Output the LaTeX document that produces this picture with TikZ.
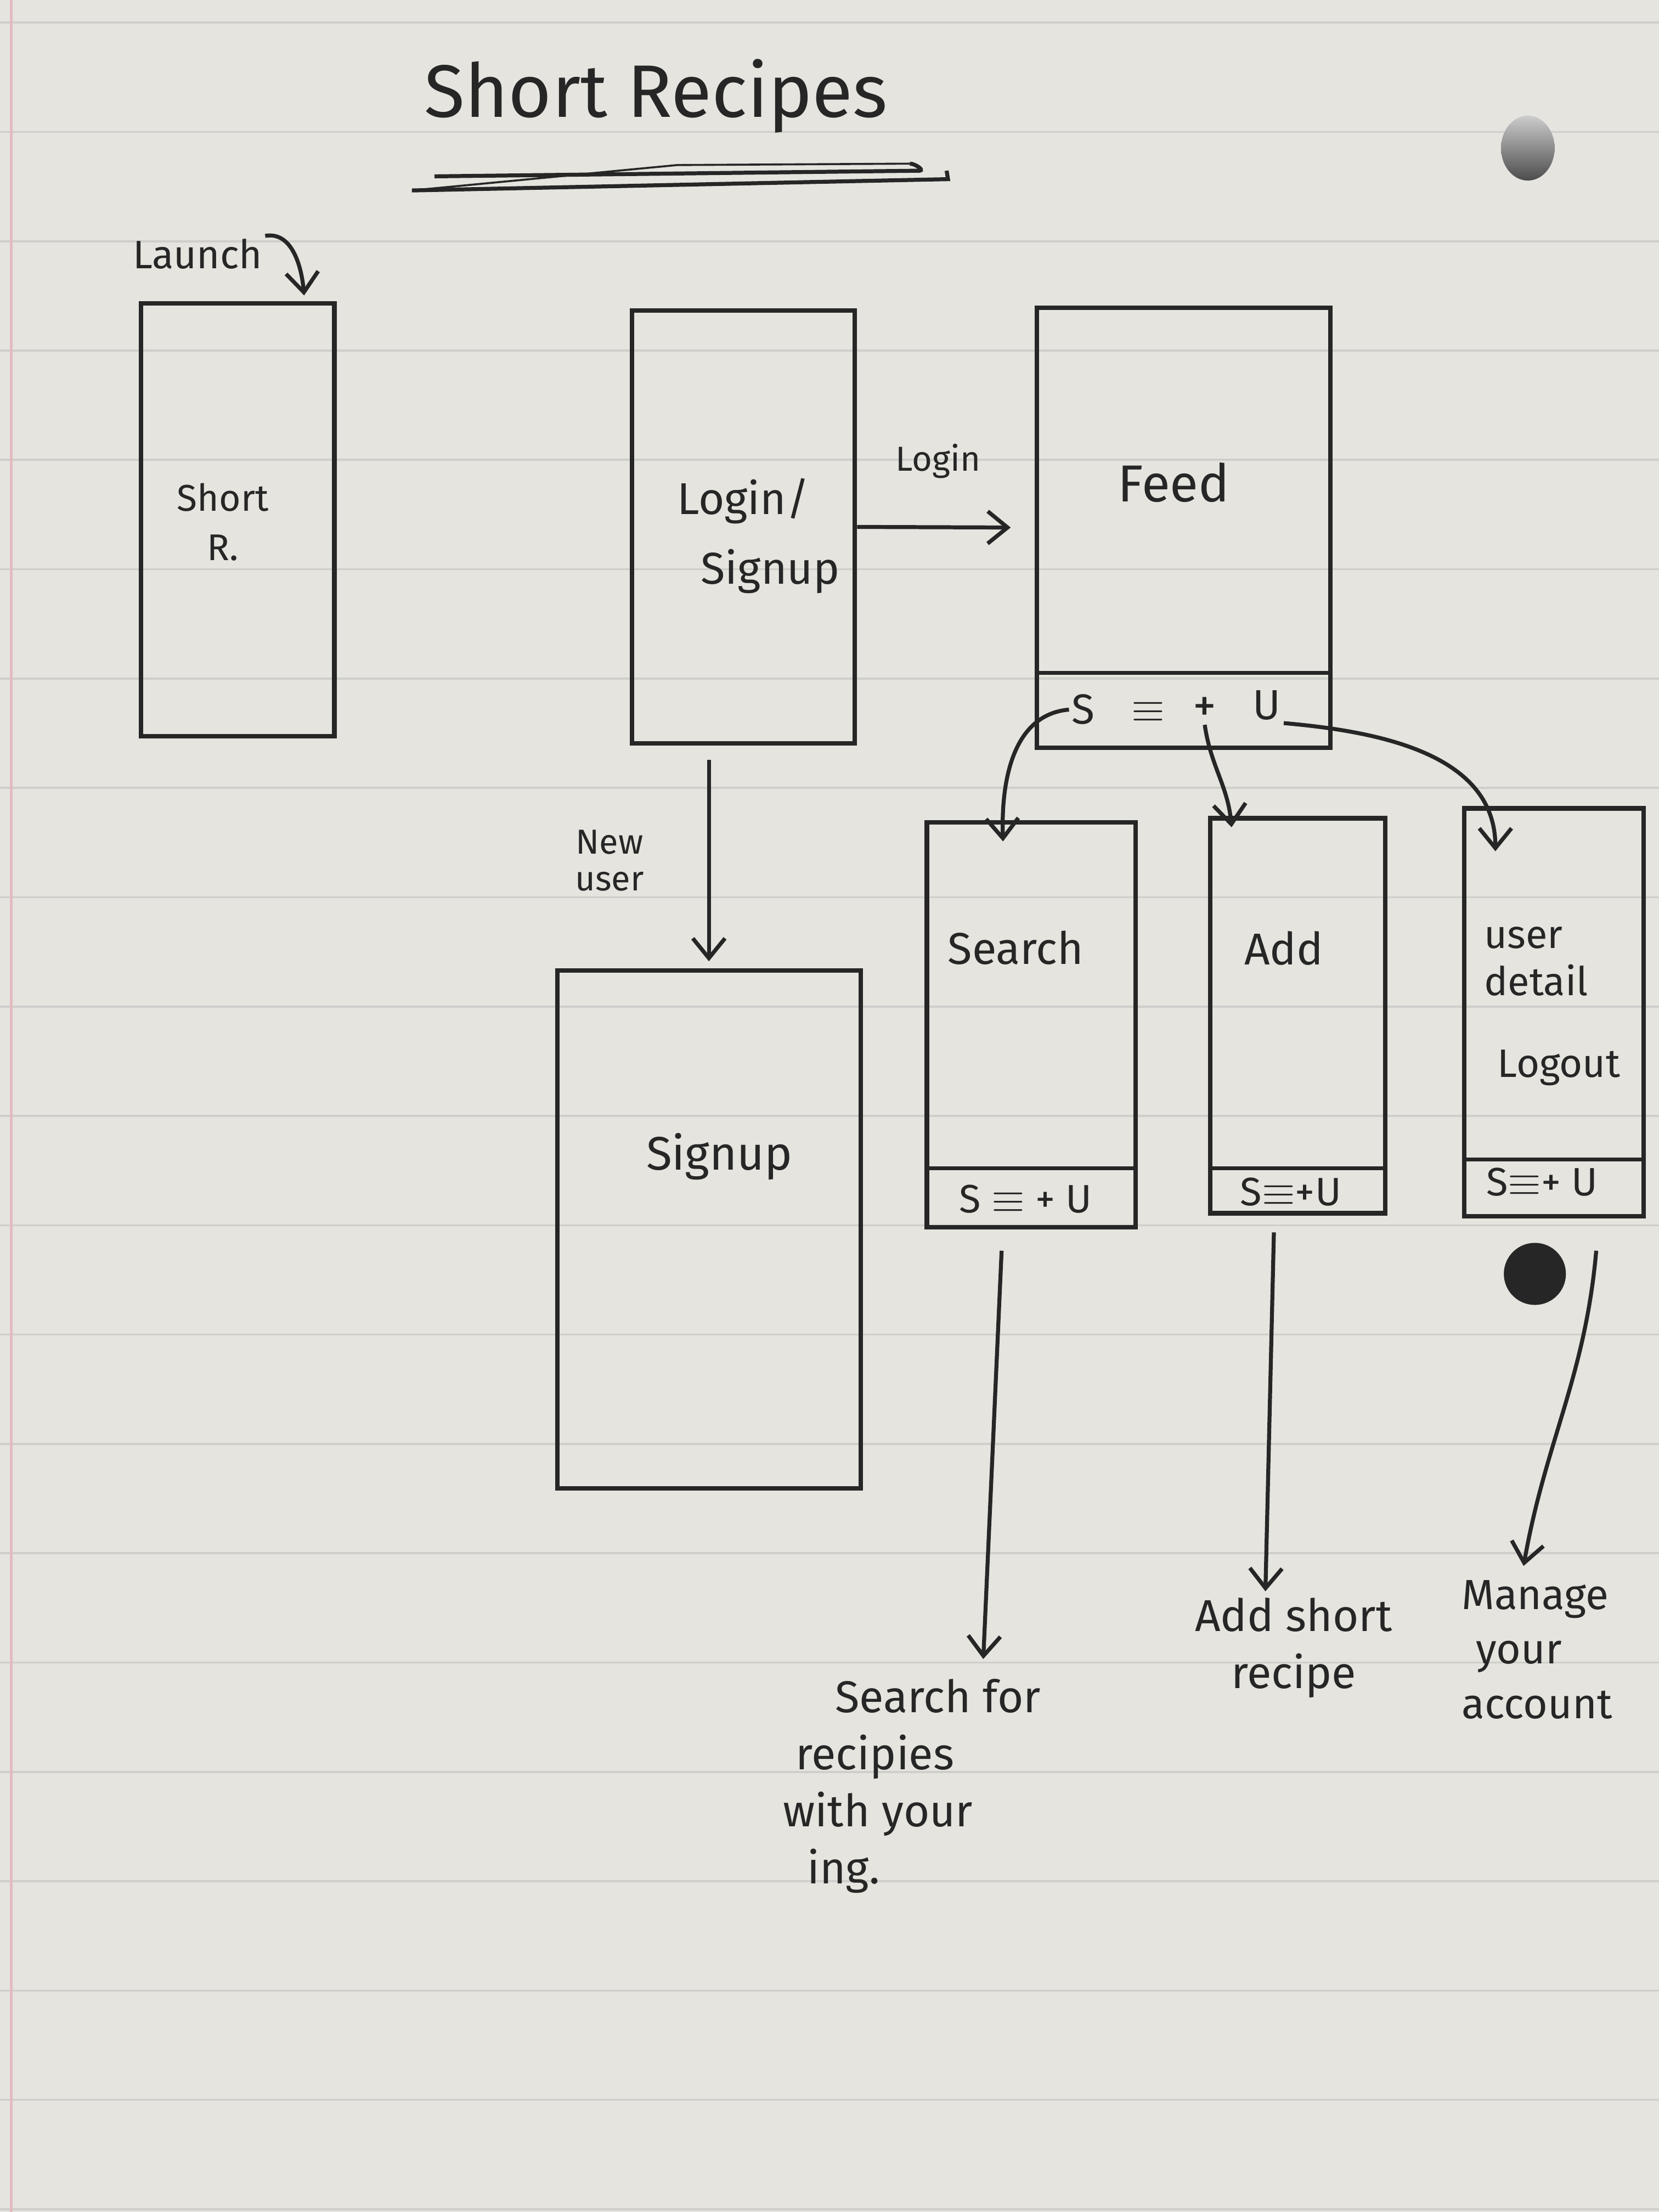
\documentclass[tikz,border=0pt]{standalone}
\usepackage{fontspec}
\setmainfont{Fira Sans}
\usetikzlibrary{arrows.meta,calc}
\definecolor{paper}{RGB}{229,228,222}
\definecolor{ruling}{RGB}{206,206,203}
\definecolor{ink}{RGB}{38,38,38}
\definecolor{marginpink}{RGB}{228,186,190}
\begin{document}
\begin{tikzpicture}[x=0.02cm,y=-0.02cm,
  screen/.style 2 args={draw=ink, line width=1.8pt, minimum width=#1*0.02cm, minimum height=#2*0.02cm, inner sep=0pt},
  hand/.style={text=ink, inner sep=1pt},
  arr/.style={draw=ink, line width=1.6pt, -{Straight Barb[length=8pt,width=13pt]}},
  sepline/.style={draw=ink, line width=1.6pt},
  sz/.style={font=\fontsize{#1}{#1}\selectfont}
]
% paper
\fill[paper] (0,0) rectangle (1176,1568);
\useasboundingbox (0,0) rectangle (1176,1568);
\foreach \k in {0,...,20} \draw[ruling, line width=0.8pt] (0,16+77.5*\k) -- (1176,16+77.5*\k);
\draw[marginpink, line width=1pt] (8,0) -- (8,1568);
\shade[top color=gray!40, bottom color=black!70] (1083,105) ellipse (0.38cm and 0.46cm);
\fill[black!85] (1088,903) circle (0.44cm);

% title
\node[hand, sz=30] (title) at (465,68) {Short Recipes};
\draw[ink, line width=1.6pt] (308,125) -- (652,121) to[out=10,in=0] (645,116);
\draw[ink, line width=0.8pt] (645,116) -- (480,117) -- (292,135);
\draw[ink, line width=1.6pt] (292,135) -- (672,127) -- (671,121);

% screens
\node[screen={137}{307}] (launchbox) at (168.5,368.5) {};
\node[screen={158}{307}] (loginbox) at (527,373.5) {};
\node[screen={208}{312}] (feed) at (839,374) {};
\node[screen={215}{367}] (signupbox) at (502.5,871.5) {};
\node[screen={148}{287}] (search) at (731,726.5) {};
\node[screen={124}{280}] (add) at (920,720) {};
\node[screen={127}{289}] (user) at (1101.5,717.5) {};

% tab-bar separators
\draw[sepline] (feed.west |- 0,477) -- (feed.east |- 0,477);
\draw[sepline] (search.west |- 0,828) -- (search.east |- 0,828);
\draw[sepline] (add.west |- 0,828) -- (add.east |- 0,828);
\draw[sepline] (user.west |- 0,822) -- (user.east |- 0,822);

% labels
\node[hand, sz=16] (launchlbl) at (140,180) {Launch};
\node[hand, align=center, font=\fontsize{15}{20}\selectfont] (shortr) at (158,370) {Short\\R.};
\node[hand, sz=18] (loginA) at (527,355) {Login/};
\node[hand, sz=18] (loginB) at (546,405) {Signup};
\node[hand, sz=14] (loginlbl) at (665,327) {Login};
\node[hand, sz=21] (feedlbl) at (832,342) {Feed};
\node[hand, align=center, font=\fontsize{14}{15}\selectfont] (newuser) at (432,610) {New\\user};
\node[hand, sz=19] (signuplbl) at (510,820) {Signup};
\node[hand, sz=18] (searchlbl) at (720,672) {Search};
\node[hand, sz=18] (addlbl) at (910,672) {Add};
\node[hand, align=left, font=\fontsize{16}{19}\selectfont, anchor=north west] (userlbl) at (1050,655) {user\\detail};
\node[hand, sz=16] (logoutlbl) at (1105,757) {Logout};

% tab bars
\node[hand, sz=17] (feedS) at (768,503) {S};
\node[hand, sz=19] (feedE) at (814,505) {$\equiv$};
\node[hand, sz=19] (feedP) at (854,503) {+};
\node[hand, sz=17] (feedU) at (898,500) {U};
\node[hand, sz=16] (searchbar) at (727,850) {S $\equiv$ + U};
\node[hand, sz=16] (addbar) at (915,845) {S$\equiv$+U};
\node[hand, sz=16] (userbar) at (1093,838) {S$\equiv$+ U};

% bottom notes
\node[hand, align=left, font=\fontsize{18}{23}\selectfont, anchor=north west] (searchnote) at (553,1188) {\hspace*{0.74cm}Search for\\\hspace*{0.18cm}recipies\\with your\\\hspace*{0.34cm}ing.};
\node[hand, align=center, font=\fontsize{18}{23}\selectfont] (addnote) at (917,1168) {Add short\\recipe};
\node[hand, align=left, font=\fontsize{17}{22}\selectfont, anchor=north west] (usernote) at (1034,1118) {Manage\\\hspace*{0.2cm}your\\account};

% end points
\coordinate (searchend) at (697,1176);
\coordinate (addend) at (897,1128);
\coordinate (userend) at (1080,1110);

% connectors
\draw[arr] (launchlbl.north east) to[out=10,in=95] ([xshift=-0.46cm,yshift=0.08cm]launchbox.north east);
\draw[arr, shorten >=0.34cm] (loginbox.east) -- (feed.west);
\draw[arr, shorten <=0.2cm, shorten >=0.1cm] (signupbox.north |- loginbox.south) -- (signupbox.north);
\draw[arr] (feedS.west) to[out=185,in=92] ([xshift=-0.4cm,yshift=-0.3cm]search.north);
\draw[arr] (feedP.south) to[out=-82,in=95] ([xshift=-0.94cm,yshift=-0.16cm]add.north);
\draw[arr] (feedU.south east) to[out=-5,in=90] ([xshift=-0.83cm,yshift=-0.64cm]user.north);
\draw[arr] ([xshift=-0.42cm,yshift=-0.3cm]search.south) -- (searchend);
\draw[arr] ([xshift=-0.34cm,yshift=-0.24cm]add.south) -- (addend);
\draw[arr] ([xshift=0.6cm,yshift=-0.46cm]user.south) to[out=-95,in=80] (userend);
\end{tikzpicture}
\end{document}
